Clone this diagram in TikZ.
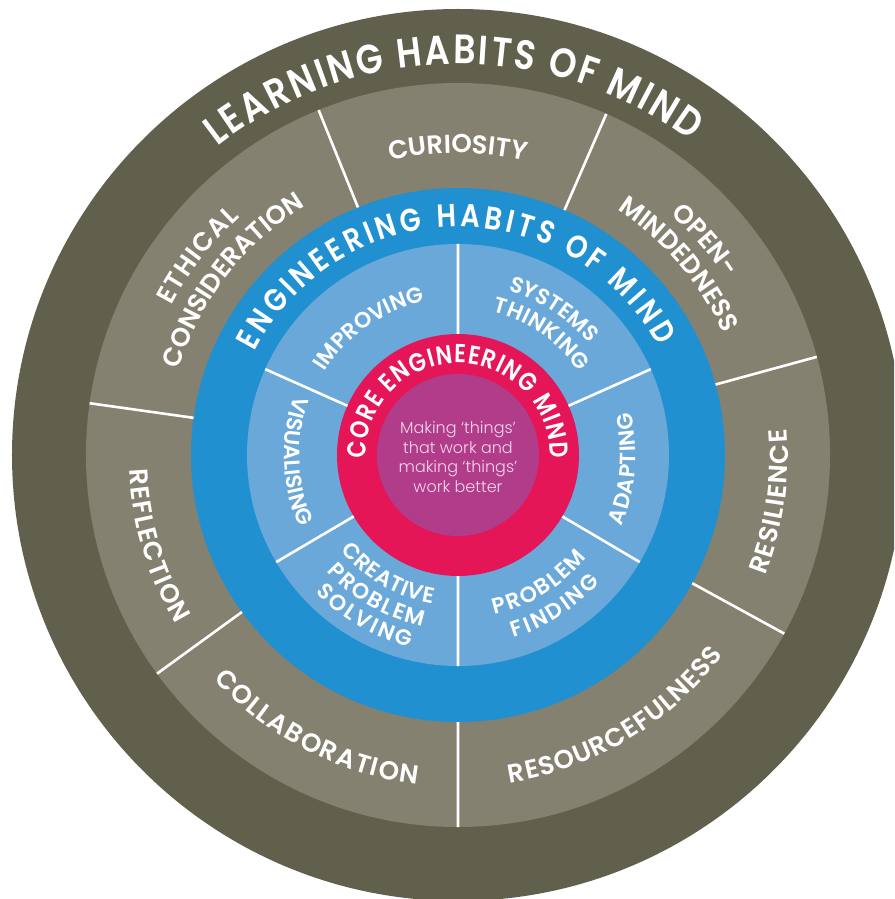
\documentclass[tikz,border=0pt]{standalone}
\usepackage{fontspec}
\usetikzlibrary{decorations.text}

\setmainfont{Poppins}
\IfFontExistsTF{Poppins SemiBold}
  {\newfontfamily\habitbold[FakeStretch=0.85]{Poppins SemiBold}
   \newfontfamily\habitsemi{Poppins SemiBold}}
  {\newfontfamily\habitbold[FakeStretch=0.85,UprightFont={* Bold}]{Poppins}
   \newfontfamily\habitsemi[UprightFont={* Bold}]{Poppins}}
\IfFontExistsTF{Poppins Light}
  {\newfontfamily\habitlight{Poppins Light}}
  {\newfontfamily\habitlight{Poppins}}

\newcommand\mindtitle{\habitbold\fontsize{41}{41}\selectfont}
\newcommand\engtitle{\habitbold\fontsize{32}{32}\selectfont}
\newcommand\coretitle{\habitbold\fontsize{26}{26}\selectfont}
\newcommand\outerlabel{\habitsemi\fontsize{26}{26}\selectfont}
\newcommand\innerlabel{\habitsemi\fontsize{22}{22}\selectfont}
\newcommand\purposefont{\habitlight\fontsize{16}{19.5}\selectfont}

\definecolor{mindolive}{RGB}{97,96,76}
\definecolor{mindtaupe}{RGB}{133,129,112}
\definecolor{mindblue}{RGB}{32,144,208}
\definecolor{mindsky}{RGB}{106,168,218}
\definecolor{mindred}{RGB}{229,22,88}
\definecolor{mindplum}{RGB}{177,60,138}
\definecolor{mindpink}{RGB}{244,214,236}

\tikzset{
    divider/.style={white, line width=2.6pt},
    arctext/.style={decorate, decoration={text along path,
        text align=fit to path, text color=white, text={#1}}},
}

\begin{document}
\begin{tikzpicture}[x=1pt,y=1pt]
    \useasboundingbox (-458,-444) rectangle (436,455);
    \fill[white] (-458,-444) rectangle (436,455);
    \clip (-458,-444) rectangle (436,455);

    % rings, outside in
    \fill[mindolive] (0,0) circle (446);
    \fill[mindtaupe] (0,0) circle (372);
    \fill[mindblue] (0,0) circle (267);
    \fill[mindsky] (0,0) circle (211);
    \fill[mindred] (0,0) circle (121);
    \fill[mindplum] (0,0) circle (81);

    % learning habits: seven sectors
    \draw[divider]
        (112:267) -- (112:372)
        (66.5:267) -- (66.5:372)
        (15.3:267) -- (15.3:372)
        (-28.7:267) -- (-28.7:372)
        (-90:267) -- (-90:372)
        (216:267) -- (216:372)
        (172:267) -- (172:372);

    % engineering habits: six sectors
    \draw[divider]
        (90:121) -- (90:211)
        (24:121) -- (24:211)
        (-30.5:121) -- (-30.5:211)
        (-90:121) -- (-90:211)
        (210.5:121) -- (210.5:211)
        (156:121) -- (156:211);

    % ring titles
    \path[arctext={|\mindtitle|LEARNING HABITS OF MIND}]
        (128:391) arc[start angle=128, end angle=53.5, radius=391];
    \path[arctext={|\engtitle|ENGINEERING HABITS OF MIND}]
        (153:228) arc[start angle=153, end angle=28.5, radius=228];
    \path[arctext={|\coretitle|CORE ENGINEERING MIND}]
        (182:92) arc[start angle=182, end angle=-2, radius=92];

    % outer labels, top half (read clockwise)
    \path[arctext={|\outerlabel|CURIOSITY}]
        (103:302) arc[start angle=103, end angle=78.3, radius=302];
    \path[arctext={|\outerlabel|ETHICAL}]
        (152.5:323) arc[start angle=152.5, end angle=132.5, radius=323];
    \path[arctext={|\outerlabel|CONSIDERATION}]
        (163:292) arc[start angle=163, end angle=121.5, radius=292];
    \path[arctext={|\outerlabel|OPEN-}]
        (48.5:321) arc[start angle=48.5, end angle=33.5, radius=321];
    \path[arctext={|\outerlabel|MINDEDNESS}]
        (57:292) arc[start angle=57, end angle=24.5, radius=292];

    % outer labels, bottom half (read anticlockwise)
    \path[arctext={|\outerlabel|RESILIENCE}]
        (-21.5:330) arc[start angle=-21.5, end angle=4.5, radius=330];
    \path[arctext={|\outerlabel|RESOURCEFULNESS}]
        (-81:332) arc[start angle=-81, end angle=-37, radius=332];
    \path[arctext={|\outerlabel|COLLABORATION}]
        (-137.5:332) arc[start angle=-137.5, end angle=-97, radius=332];
    \path[arctext={|\outerlabel|REFLECTION}]
        (182.5:329) arc[start angle=182.5, end angle=211, radius=329];

    % inner labels
    \path[arctext={|\innerlabel|IMPROVING}]
        (148:157) arc[start angle=148, end angle=103, radius=157];
    \path[arctext={|\innerlabel|SYSTEMS}]
        (73:172) arc[start angle=73, end angle=41, radius=172];
    \path[arctext={|\innerlabel|THINKING}]
        (76.5:147) arc[start angle=76.5, end angle=34.5, radius=147];
    \path[arctext={|\innerlabel|ADAPTING}]
        (-23.5:178) arc[start angle=-23.5, end angle=14, radius=178];
    \path[arctext={|\innerlabel|PROBLEM}]
        (-77:164) arc[start angle=-77, end angle=-38.5, radius=164];
    \path[arctext={|\innerlabel|FINDING}]
        (-73:191) arc[start angle=-73, end angle=-42, radius=191];
    \path[arctext={|\innerlabel|CREATIVE}]
        (-141:151) arc[start angle=-141, end angle=-99.5, radius=151];
    \path[arctext={|\innerlabel|PROBLEM}]
        (-138.5:175) arc[start angle=-138.5, end angle=-101.5, radius=175];
    \path[arctext={|\innerlabel|SOLVING}]
        (-136:198) arc[start angle=-136, end angle=-104, radius=198];
    \path[arctext={|\innerlabel|VISUALISING}]
        (160:174) arc[start angle=160, end angle=204.5, radius=174];

    \node[align=center, text=mindpink, font=\purposefont] (purpose) at (0,-2)
        {Making ‘things’\\that work and\\making ‘things’\\work better};
\end{tikzpicture}
\end{document}
